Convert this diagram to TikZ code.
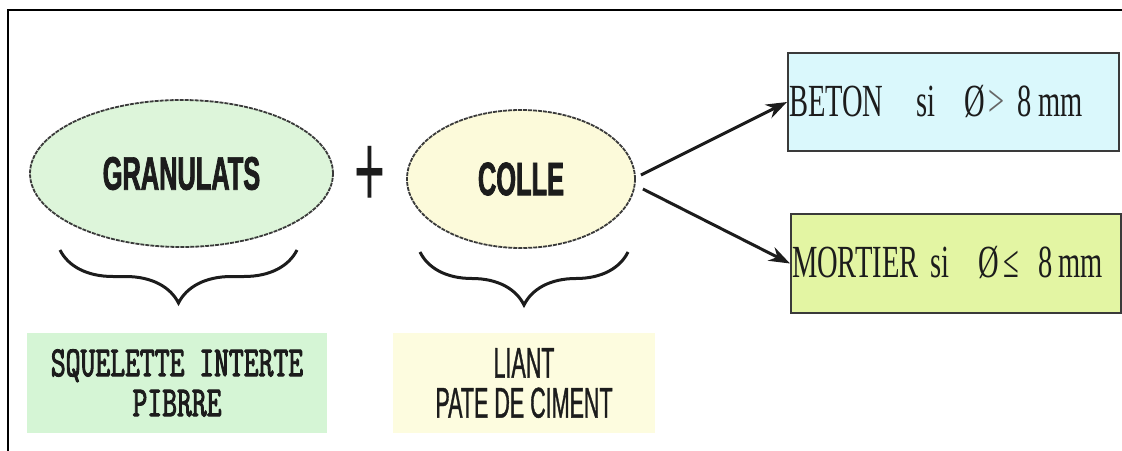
\documentclass[tikz,border=0pt]{standalone}
\usepackage{fontspec}
\usetikzlibrary{shapes.geometric,arrows.meta,decorations.pathreplacing}

% condensed faces used throughout the figure
\newfontfamily\condsans[FakeStretch=0.54,FakeBold=1.5]{Liberation Sans}
\newfontfamily\plusfont[FakeStretch=0.5]{Liberation Sans}
\newfontfamily\condsanslight[FakeStretch=0.5,FakeBold=0.8]{Liberation Sans}
\newfontfamily\condserif[FakeStretch=0.62]{Liberation Serif}
\newfontfamily\condmono[FakeStretch=0.67,FakeBold=2.2]{Latin Modern Mono}

\definecolor{granfill}{HTML}{DDF5DA}
\definecolor{skelfill}{HTML}{D5F5D5}
\definecolor{collefill}{HTML}{FCFADA}
\definecolor{liantfill}{HTML}{FDFCDF}
\definecolor{betonfill}{HTML}{DAF8FC}
\definecolor{mortierfill}{HTML}{E3F5A3}
\definecolor{inkdark}{HTML}{1C1C1C}
\definecolor{edgegray}{HTML}{3A3A3A}

\begin{document}
\begin{tikzpicture}[x=1pt,y=-1pt,
  frameline/.style={line width=2pt,black},
  oval/.style={ellipse,draw=edgegray,line width=1.8pt,dash pattern=on 4pt off 1pt,
    inner sep=0pt,text=inkdark},
  ovaltext/.style={font=\condsans\bfseries\fontsize{47}{52}\selectfont},
  bracket/.style={decorate,decoration={brace,mirror,amplitude=53pt},
    line width=3pt,inkdark},
  tag/.style={inner sep=0pt,minimum width=300pt,minimum height=100pt,text=inkdark},
  result/.style={rectangle,draw=edgegray,line width=2pt,inner xsep=1pt,inner ysep=0pt,
    align=left,text=inkdark,text height=28pt,text depth=0pt,
    font=\condserif\fontsize{46}{50}\selectfont},
  arr/.style={-{Stealth[length=21pt,width=15pt]},line width=3pt,inkdark}]

\useasboundingbox (0,0) rectangle (1122,450);

% open frame: left and top edges
\draw[frameline] (8,451) -- (8,10) -- (1123,10);

% the two constituents
\node[oval,fill=granfill,minimum width=303pt,minimum height=147pt,ovaltext]
  (gran) at (181.5,173.5) {GRANULATS};
\node[font=\plusfont\fontsize{106}{110}\selectfont,inner sep=0pt,text=inkdark]
  (plus) at (370,177) {+};
\node[oval,fill=collefill,minimum width=228pt,minimum height=138pt,ovaltext]
  (colle) at (521,179) {COLLE};

% braces under each constituent
\draw[bracket] (60,250) -- (297,250);
\draw[bracket] (420,252) -- (628,252);

% descriptions
\node[tag,fill=skelfill,align=center,
  font=\condmono\fontsize{43}{40}\selectfont] (skel) at (177,383)
  {SQUELETTE INTERTE\\PIBRRE};
\node[tag,fill=liantfill,minimum width=262pt,align=center,
  font=\condsanslight\fontsize{43}{40}\selectfont] (liant) at (524,383)
  {LIANT\\PATE DE CIMENT};

% outcomes
\node[result,fill=betonfill,minimum width=331pt,minimum height=98pt,text width=329pt,
  anchor=north west] (beton) at (787,52)
  {BETON\hspace{33pt}si\hspace{29pt}Ø\hspace{3pt}{\color{black!60}>}\hspace{13pt}8\hspace{7pt}mm};
\node[result,fill=mortierfill,minimum width=330pt,minimum height=99pt,text width=328pt,
  anchor=north west] (mortier) at (790,213)
  {MORTIER\hspace{12pt}si\hspace{29pt}Ø\hspace{4pt}≤\hspace{20pt}8\hspace{5pt}mm};

% arrows from the mixture to each outcome
\draw[arr] ([shift={(5,-4)}]colle.east) -- (beton.west);
\draw[arr] ([shift={(7,10)}]colle.east) -- (mortier.west);
\end{tikzpicture}
\end{document}
